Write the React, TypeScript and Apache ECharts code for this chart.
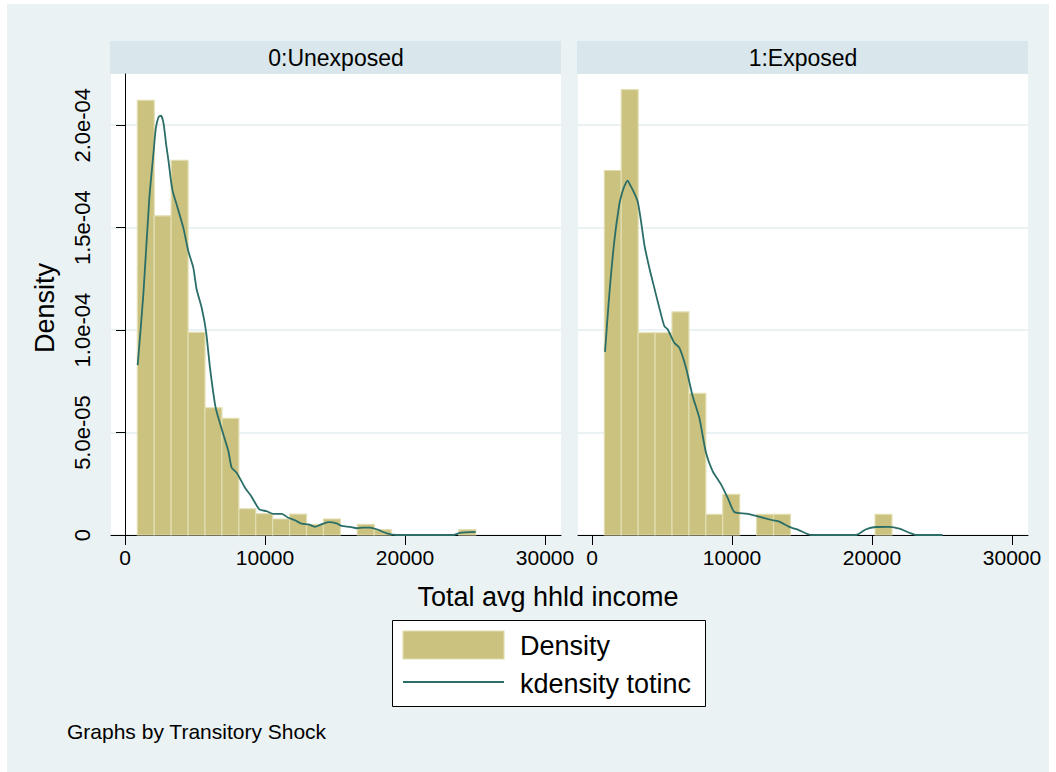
import React, { useEffect, useRef } from "react";
import * as echarts from "echarts";

// ---- data ----
const binEdges = [880, 2088, 3297, 4505, 5714, 6922, 8131, 9339, 10548, 11756, 12965, 14173, 15382, 16590, 17799, 19007, 20216, 21424, 22633, 23841, 25050];

const unexposedDensity = [2.122e-4, 1.558e-4, 1.829e-4, 0.989e-4, 0.621e-4, 0.569e-4, 0.128e-4, 0.104e-4, 0.078e-4, 0.102e-4, 0.052e-4, 0.078e-4, 0, 0.052e-4, 0.026e-4, 0, 0, 0, 0, 0.026e-4];
const exposedDensity = [1.779e-4, 2.174e-4, 0.987e-4, 0.987e-4, 1.089e-4, 0.691e-4, 0.101e-4, 0.198e-4, 0, 0.101e-4, 0.101e-4, 0, 0, 0, 0, 0, 0.101e-4, 0, 0, 0];

const unexposedKdeIncome = [905, 1310, 1738, 2024, 2200, 2400, 2571, 2750, 2950, 3120, 3260, 3405, 3690, 4167, 4524, 4881, 5119, 5476, 5786, 6071, 6429, 6595, 7024, 7381, 7619, 7976, 8571, 9048, 9595, 10119, 10595, 11190, 11667, 12143, 12619, 13095, 13571, 13929, 14524, 15119, 15476, 16071, 16548, 17024, 17500, 17976, 18690, 19405, 23452, 23929, 25050];
const unexposedKdeDensity = [0.829e-4, 1.174e-4, 1.645e-4, 1.857e-4, 1.985e-4, 2.040e-4, 2.047e-4, 2.010e-4, 1.900e-4, 1.820e-4, 1.740e-4, 1.678e-4, 1.613e-4, 1.499e-4, 1.385e-4, 1.304e-4, 1.198e-4, 1.109e-4, 0.995e-4, 0.816e-4, 0.638e-4, 0.589e-4, 0.491e-4, 0.410e-4, 0.328e-4, 0.304e-4, 0.231e-4, 0.186e-4, 0.125e-4, 0.116e-4, 0.103e-4, 0.103e-4, 0.084e-4, 0.072e-4, 0.055e-4, 0.052e-4, 0.040e-4, 0.049e-4, 0.063e-4, 0.057e-4, 0.044e-4, 0.040e-4, 0.033e-4, 0.036e-4, 0.036e-4, 0.028e-4, 0.008e-4, 0, 0, 0.010e-4, 0.015e-4];

const exposedKdeIncome = [929, 1236, 1593, 1950, 2150, 2307, 2543, 2750, 2900, 3257, 3500, 3736, 4093, 4450, 4807, 5164, 5402, 5879, 6236, 6714, 7186, 7664, 8143, 8614, 9214, 9686, 10164, 11000, 11714, 12900, 13379, 14093, 14807, 15643, 18857, 19571, 20286, 21236, 21950, 22664, 23143, 25043];
const exposedKdeDensity = [0.894e-4, 1.174e-4, 1.434e-4, 1.613e-4, 1.670e-4, 1.702e-4, 1.730e-4, 1.705e-4, 1.686e-4, 1.629e-4, 1.532e-4, 1.418e-4, 1.304e-4, 1.206e-4, 1.109e-4, 1.020e-4, 1.004e-4, 0.938e-4, 0.914e-4, 0.816e-4, 0.678e-4, 0.572e-4, 0.401e-4, 0.312e-4, 0.247e-4, 0.182e-4, 0.112e-4, 0.104e-4, 0.093e-4, 0.072e-4, 0.065e-4, 0.040e-4, 0.023e-4, 0, 0, 0.028e-4, 0.039e-4, 0.040e-4, 0.031e-4, 0.011e-4, 0, 0];

const panelTitles = ["0:Unexposed", "1:Exposed"];
const xTickValues = [0, 10000, 20000, 30000];
const xTickLabels = ["0", "10000", "20000", "30000"];
const yTickValues = [0, 5e-5, 1e-4, 1.5e-4, 2e-4];
const yTickLabels = ["0", "5.0e-05", "1.0e-04", "1.5e-04", "2.0e-04"];
const xTitle = "Total avg hhld income";
const yTitle = "Density";
const legendLabels = ["Density", "kdensity totinc"];
const noteText = "Graphs by Transitory Shock";

// ---- styles ----
const FONT = "Liberation Sans, Arial, sans-serif";
const BAR_FILL = "#CAC27E";
const BAR_STROKE = "#E2DEB2";
const LINE_COLOR = "#2B6E68";
const BG = "#EAF2F3";
const HEADER_BG = "#D9E6EB";
const GRIDLINE = "#EBF2F4";

function histData(dens: number[]) {
  const rows: number[][] = [];
  dens.forEach((d, i) => {
    if (d > 0) rows.push([binEdges[i], binEdges[i + 1], d]);
  });
  return rows;
}

function pairs(xs: number[], ys: number[]) {
  return xs.map((x, i) => [x, ys[i]]);
}

function labelFor(values: number[], labels: string[], v: number, tol: number) {
  const idx = values.findIndex((t) => Math.abs(t - v) < tol);
  return idx >= 0 ? labels[idx] : "";
}

const renderBar = (params: any, api: any) => {
  const x0 = api.value(0);
  const x1 = api.value(1);
  const y = api.value(2);
  const p0 = api.coord([x0, y]);
  const p1 = api.coord([x1, 0]);
  return {
    type: "rect",
    shape: { x: p0[0], y: p0[1], width: p1[0] - p0[0], height: p1[1] - p0[1] },
    style: { fill: BAR_FILL, stroke: BAR_STROKE, lineWidth: 1.2 },
  };
};

export default function App() {
  const ref = useRef<HTMLDivElement>(null);

  useEffect(() => {
    if (!ref.current) return;
    const chart = echarts.init(ref.current, null, { renderer: "svg" });

    const grids = [
      { left: 111, top: 74, width: 450, height: 461 },
      { left: 578, top: 74, width: 450, height: 461 },
    ];

    const xAxes = [0, 1].map((i) => ({
      type: "value",
      gridIndex: i,
      min: -1000,
      max: 31140,
      axisLine: { show: true, onZero: false, lineStyle: { color: "#000", width: 1 } },
      axisTick: { show: true, length: 10, customValues: xTickValues, lineStyle: { color: "#000", width: 1 } },
      axisLabel: {
        customValues: xTickValues,
        fontSize: 21,
        color: "#000",
        fontFamily: FONT,
        margin: 12,
        formatter: (v: number) => labelFor(xTickValues, xTickLabels, v, 0.5),
      },
      splitLine: { show: false },
    }));

    const yAxes = [0, 1].map((i) => ({
      type: "value",
      gridIndex: i,
      min: 0,
      max: 2.25e-4,
      interval: 5e-5,
      axisLine: { show: i === 0, lineStyle: { color: "#000", width: 1 } },
      axisTick: { show: i === 0, length: 9, customValues: yTickValues, lineStyle: { color: "#000", width: 1 } },
      axisLabel: {
        show: i === 0,
        customValues: yTickValues,
        rotate: 90,
        fontSize: 22,
        color: "#000",
        fontFamily: FONT,
        margin: 18,
        formatter: (v: number) => labelFor(yTickValues, yTickLabels, v, 1e-9),
      },
      splitLine: { show: true, lineStyle: { color: GRIDLINE, width: 2 } },
    }));

    const series: any[] = [];
    [unexposedDensity, exposedDensity].forEach((dens, i) => {
      series.push({
        type: "custom",
        xAxisIndex: i,
        yAxisIndex: i,
        renderItem: renderBar,
        encode: { x: [0, 1], y: 2 },
        data: histData(dens),
        z: 2,
      });
    });
    [
      pairs(unexposedKdeIncome, unexposedKdeDensity),
      pairs(exposedKdeIncome, exposedKdeDensity),
    ].forEach((d, i) => {
      series.push({
        type: "line",
        xAxisIndex: i,
        yAxisIndex: i,
        data: d,
        showSymbol: false,
        smooth: 0.2,
        lineStyle: { color: LINE_COLOR, width: 1.8 },
        z: 3,
      });
    });

    const headerRects = grids.map((g, i) => ({
      type: "group",
      children: [
        {
          type: "rect",
          shape: { x: g.left - 1, y: 41, width: g.width + 1, height: 33 },
          style: { fill: HEADER_BG },
          z: -50,
        },
        {
          type: "text",
          x: g.left + g.width / 2,
          y: 57.5,
          style: {
            text: panelTitles[i],
            fontSize: 23,
            fontFamily: FONT,
            fill: "#000",
            align: "center",
            verticalAlign: "middle",
          },
        },
      ],
    }));

    chart.setOption({
      animation: false,
      backgroundColor: "#fff",
      grid: grids.map((g) => ({ ...g, show: true, backgroundColor: "#fff", borderWidth: 0 })),
      xAxis: xAxes,
      yAxis: yAxes,
      series,
      graphic: [
        {
          type: "rect",
          shape: { x: 7, y: 4, width: 1042, height: 768 },
          style: { fill: BG },
          z: -100,
        },
        ...headerRects,
        {
          type: "text",
          x: 45,
          y: 308,
          rotation: Math.PI / 2,
          style: {
            text: yTitle,
            fontSize: 27,
            fontFamily: FONT,
            fill: "#000",
            align: "center",
            verticalAlign: "middle",
          },
        },
        {
          type: "text",
          x: 548,
          y: 597,
          style: {
            text: xTitle,
            fontSize: 27,
            fontFamily: FONT,
            fill: "#000",
            align: "center",
            verticalAlign: "middle",
          },
        },
        {
          type: "rect",
          shape: { x: 392.5, y: 620.5, width: 313, height: 86 },
          style: { fill: "#fff", stroke: "#000", lineWidth: 1 },
        },
        {
          type: "rect",
          shape: { x: 403, y: 631, width: 101, height: 28 },
          style: { fill: BAR_FILL, stroke: BAR_STROKE, lineWidth: 1.2 },
        },
        {
          type: "line",
          shape: { x1: 403, y1: 682, x2: 504, y2: 682 },
          style: { stroke: LINE_COLOR, lineWidth: 1.8 },
        },
        {
          type: "text",
          x: 520,
          y: 646,
          style: {
            text: legendLabels[0],
            fontSize: 27,
            fontFamily: FONT,
            fill: "#000",
            align: "left",
            verticalAlign: "middle",
          },
        },
        {
          type: "text",
          x: 520,
          y: 684,
          style: {
            text: legendLabels[1],
            fontSize: 27,
            fontFamily: FONT,
            fill: "#000",
            align: "left",
            verticalAlign: "middle",
          },
        },
        {
          type: "text",
          x: 67,
          y: 731,
          style: {
            text: noteText,
            fontSize: 21,
            fontFamily: FONT,
            fill: "#000",
            align: "left",
            verticalAlign: "middle",
          },
        },
      ],
    });

    return () => {
      chart.dispose();
    };
  }, []);

  return (
    <div
      ref={ref}
      style={{ position: "fixed", left: 0, top: 0, width: 1056, height: 772 }}
    />
  );
}
